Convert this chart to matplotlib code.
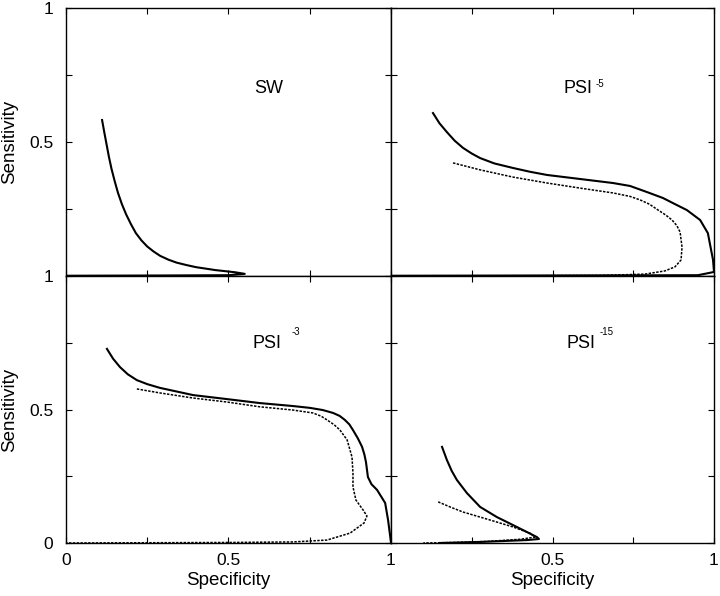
"""Four-panel sensitivity / specificity curves (SW, PSI^-5, PSI^-3, PSI^-15)."""

import matplotlib

matplotlib.use("Agg")
import matplotlib.pyplot as plt  # noqa: E402

plt.rcParams["font.family"] = ["Liberation Sans", "DejaVu Sans"]

# --- data ------------------------------------------------------------------
# SW (top left), solid only
sw_spec = [0.111, 0.118, 0.125, 0.132, 0.140, 0.150, 0.160, 0.172, 0.185, 0.200,
           0.215, 0.232, 0.250, 0.270, 0.290, 0.315, 0.340, 0.370, 0.400, 0.460,
           0.520, 0.550, 0.500, 0.300, 0.0]
sw_sens = [0.582, 0.535, 0.490, 0.445, 0.400, 0.353, 0.310, 0.268, 0.230, 0.193,
           0.160, 0.133, 0.110, 0.091, 0.075, 0.061, 0.050, 0.041, 0.033, 0.022,
           0.014, 0.008, 0.003, 0.002, 0.001]

# PSI^-5 (top right)
p5_solid_spec = [0.130, 0.150, 0.173, 0.197, 0.223, 0.250, 0.276, 0.320, 0.378, 0.430,
                 0.483, 0.585, 0.687, 0.740, 0.793, 0.842, 0.873, 0.916, 0.957, 0.981,
                 0.997, 1.0, 0.95, 0.5, 0.0]
p5_solid_sens = [0.608, 0.570, 0.537, 0.505, 0.478, 0.457, 0.440, 0.420, 0.403, 0.389,
                 0.377, 0.362, 0.347, 0.336, 0.313, 0.291, 0.272, 0.246, 0.209, 0.160,
                 0.060, 0.015, 0.003, 0.002, 0.001]
p5_dot_spec = [0.192, 0.276, 0.378, 0.483, 0.585, 0.687, 0.740, 0.771, 0.800, 0.827,
               0.850, 0.870, 0.885, 0.895, 0.901, 0.898, 0.879, 0.848, 0.786, 0.647,
               0.40, 0.0]
p5_dot_sens = [0.422, 0.396, 0.369, 0.347, 0.328, 0.310, 0.297, 0.284, 0.268, 0.246,
               0.228, 0.209, 0.188, 0.164, 0.108, 0.060, 0.034, 0.019, 0.007, 0.002,
               0.001, 0.0]

# PSI^-3 (bottom left)
p3_solid_spec = [0.126, 0.145, 0.166, 0.190, 0.218, 0.250, 0.289, 0.391, 0.495, 0.597,
                 0.698, 0.751, 0.790, 0.822, 0.842, 0.858, 0.872, 0.883, 0.898, 0.911,
                 0.918, 0.923, 0.929, 0.940, 0.957, 0.982, 0.991, 0.997, 1.0]
p3_solid_sens = [0.727, 0.690, 0.659, 0.632, 0.610, 0.595, 0.581, 0.554, 0.539, 0.524,
                 0.513, 0.506, 0.498, 0.487, 0.476, 0.461, 0.444, 0.423, 0.392, 0.360,
                 0.332, 0.303, 0.247, 0.220, 0.199, 0.150, 0.086, 0.030, 0.0]
p3_dot_spec = [0.218, 0.289, 0.391, 0.495, 0.597, 0.698, 0.760, 0.785, 0.803, 0.825,
               0.843, 0.865, 0.880, 0.883, 0.883, 0.892, 0.914, 0.926, 0.917, 0.874,
               0.803, 0.698, 0.505, 0.0]
p3_dot_sens = [0.577, 0.562, 0.543, 0.528, 0.510, 0.498, 0.487, 0.475, 0.461, 0.443,
               0.423, 0.386, 0.322, 0.262, 0.210, 0.161, 0.124, 0.101, 0.075, 0.037,
               0.011, 0.004, 0.002, 0.0]

# PSI^-15 (bottom right)
p15_solid_spec = [0.158, 0.173, 0.188, 0.204, 0.235, 0.276, 0.328, 0.378, 0.421, 0.452,
                  0.458, 0.421, 0.276, 0.152]
p15_solid_sens = [0.360, 0.311, 0.270, 0.236, 0.187, 0.135, 0.097, 0.067, 0.041, 0.022,
                  0.015, 0.011, 0.004, 0.0]
p15_dot_spec = [0.146, 0.185, 0.223, 0.307, 0.378, 0.430, 0.446, 0.400, 0.300, 0.200,
                0.100]
p15_dot_sens = [0.154, 0.134, 0.116, 0.086, 0.060, 0.037, 0.022, 0.014, 0.006, 0.002,
                0.0]

panels = [
    # (name, superscript, text xy, superscript xy, solid, dotted)
    ("SW", "", (0.625, 0.698), None, (sw_spec, sw_sens), None),
    ("PSI", "-5", (0.578, 0.698), (0.648, 0.716),
     (p5_solid_spec, p5_solid_sens), (p5_dot_spec, p5_dot_sens)),
    ("PSI", "-3", (0.618, 0.749), (0.708, 0.790),
     (p3_solid_spec, p3_solid_sens), (p3_dot_spec, p3_dot_sens)),
    ("PSI", "-15", (0.588, 0.749), (0.666, 0.790),
     (p15_solid_spec, p15_solid_sens), (p15_dot_spec, p15_dot_sens)),
]

TICKS = [0, 0.25, 0.5, 0.75, 1]

fig = plt.figure(figsize=(7.2, 5.96), dpi=100)
left, mid, right = 66 / 720, 391 / 720, 714 / 720
bottom, vmid, top = 1 - 543 / 596, 1 - 276 / 596, 1 - 8 / 596
rects = [
    (left, vmid, mid - left, top - vmid),
    (mid, vmid, right - mid, top - vmid),
    (left, bottom, mid - left, vmid - bottom),
    (mid, bottom, right - mid, vmid - bottom),
]

for i, (rect, (name, sup, txy, sxy, solid, dotted)) in enumerate(zip(rects, panels)):
    ax = fig.add_axes(rect)
    ax.plot(*solid, color="black", lw=1.5, solid_joinstyle="round")
    if dotted is not None:
        ax.plot(*dotted, color="black", lw=1.1, linestyle=(0, (1.6, 0.9)))
    ax.set_xlim(0, 1)
    ax.set_ylim(0, 1)
    for s in ax.spines.values():
        s.set_linewidth(1.0)
    ax.tick_params(direction="in", top=True, right=True, length=4, width=0.8,
                   labelsize=12.5)
    ax.tick_params(axis="y", pad=9)
    ax.tick_params(axis="x", pad=7)

    row, col = divmod(i, 2)
    if col == 0:
        ylabels = ["0", "", "0.5", "", "1"] if row == 1 else ["", "", "0.5", "", "1"]
        ax.set_yticks(TICKS, labels=ylabels)
        ax.set_ylabel("Sensitivity", fontsize=13.5, labelpad=8)
    else:
        ax.set_yticks(TICKS, labels=[""] * 5)
    if row == 1:
        xlabels = ["0", "", "0.5", "", "1"] if col == 0 else ["", "", "0.5", "", "1"]
        ax.set_xticks(TICKS, labels=xlabels)
        ax.set_xlabel("Specificity", fontsize=13.5, labelpad=3)
    else:
        ax.set_xticks(TICKS, labels=[""] * 5)

    ax.text(*txy, name, fontsize=13, ha="center", va="center")
    if sxy is not None:
        ax.text(*sxy, sup, fontsize=7, ha="center", va="center")

fig.savefig("out.png", dpi=100)
